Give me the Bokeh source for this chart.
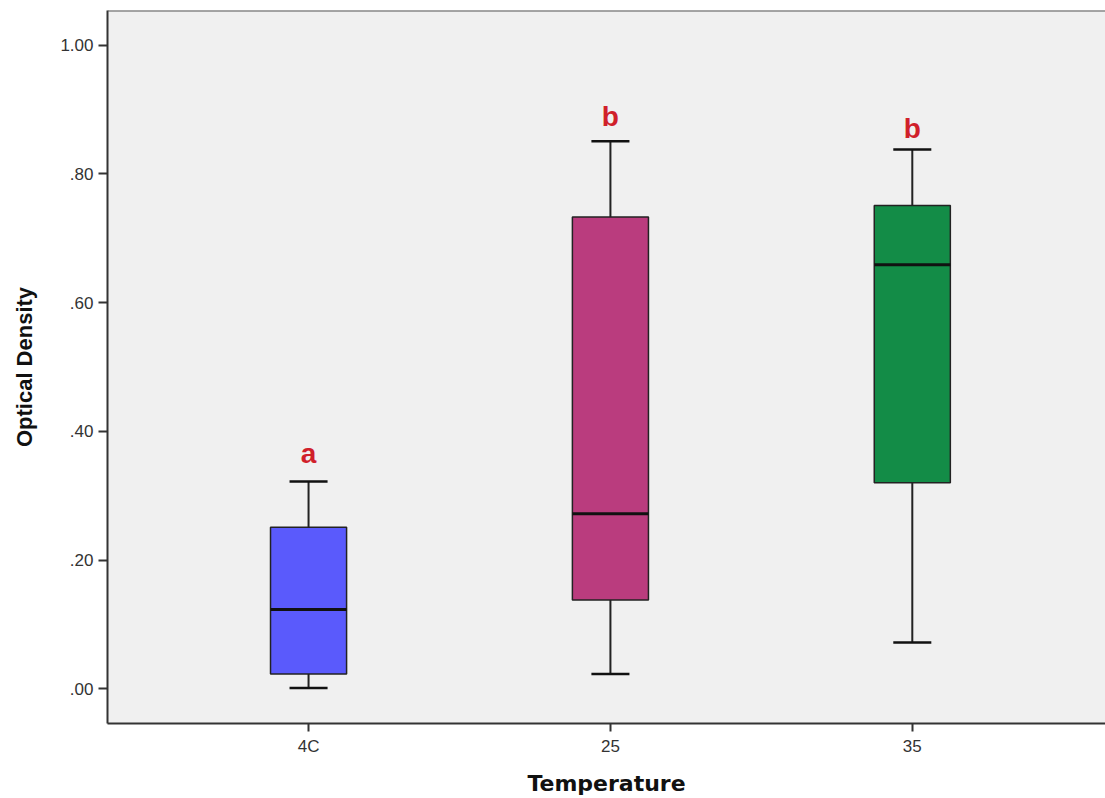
import numpy as np
from bokeh.plotting import figure
from bokeh.models import Range1d, FixedTicker, Span, ColumnDataSource
from bokeh.embed import file_html
from bokeh.resources import INLINE
from bokeh.core.properties import value

# ---- data ----
categories = ["4C", "25", "35"]
x_pos = [1, 2, 3]
whisker_low = [0.001, 0.023, 0.072]
q1 = [0.023, 0.138, 0.320]
median = [0.123, 0.272, 0.659]
q3 = [0.251, 0.733, 0.751]
whisker_high = [0.322, 0.851, 0.838]
box_colors = ["#5a5afc", "#ba3c7e", "#138c47"]
letters = ["a", "b", "b"]
letter_y = [0.365, 0.890, 0.871]
y_ticks = [0.0, 0.2, 0.4, 0.6, 0.8, 1.0]
y_tick_labels = [".00", ".20", ".40", ".60", ".80", "1.00"]

box_w = 0.252
cap_w = 0.126

xs = np.array(x_pos, dtype=float)
src = ColumnDataSource(dict(
    x=xs, q1=q1, q3=q3, med=median, lo=whisker_low, hi=whisker_high,
    color=box_colors,
    bx0=xs - box_w / 2, bx1=xs + box_w / 2,
    cx0=xs - cap_w / 2, cx1=xs + cap_w / 2,
    lab=letters, ly=letter_y,
))

p = figure(width=1105, height=798, output_backend="svg", toolbar_location=None,
           x_range=Range1d(0.334, 3.64), y_range=Range1d(-0.054, 1.054),
           min_border_left=107, min_border_right=0, min_border_top=10,
           min_border_bottom=75)

p.background_fill_color = "#f0f0f0"
p.border_fill_color = "white"
p.outline_line_color = None
p.xgrid.grid_line_color = None
p.ygrid.grid_line_color = None

# whisker stems
p.segment(x0="x", y0="q3", x1="x", y1="hi", source=src, line_color="#222222", line_width=2)
p.segment(x0="x", y0="lo", x1="x", y1="q1", source=src, line_color="#222222", line_width=2)
# caps
p.segment(x0="cx0", y0="hi", x1="cx1", y1="hi", source=src, line_color="#111111", line_width=2.5)
p.segment(x0="cx0", y0="lo", x1="cx1", y1="lo", source=src, line_color="#111111", line_width=2.5)
# boxes
p.vbar(x="x", width=box_w, top="q3", bottom="q1", source=src,
       fill_color="color", line_color="#222222", line_width=1.5)
# medians
p.segment(x0="bx0", y0="med", x1="bx1", y1="med", source=src, line_color="#111111", line_width=3)

# significance letters
p.text(x="x", y="ly", text="lab", source=src, text_align="center", text_baseline="middle",
       text_color="#d0202a", text_font=value("Liberation Sans"), text_font_style="bold",
       text_font_size="28px")

# top border
p.add_layout(Span(location=1.054, dimension="width", line_color="#555555", line_width=2))

# axes
for ax in (p.xaxis[0], p.yaxis[0]):
    ax.axis_line_color = "#333333"
    ax.axis_line_width = 2
    ax.major_tick_line_color = "#333333"
    ax.major_tick_line_width = 2
    ax.major_tick_out = 9
    ax.major_tick_in = 0
    ax.minor_tick_line_color = None
    ax.major_label_text_font = "Liberation Sans"
    ax.major_label_text_font_size = "17px"
    ax.major_label_text_color = "#333333"
    ax.axis_label_text_font_style = "bold"
    ax.axis_label_text_color = "#111111"

p.xaxis.ticker = FixedTicker(ticks=x_pos)
p.xaxis.major_label_overrides = {x: c for x, c in zip(x_pos, categories)}
p.xaxis.axis_label = "Temperature"
p.xaxis.axis_label_text_font = "DejaVu Sans"
p.xaxis.axis_label_text_font_size = "22px"
p.xaxis.axis_label_standoff = 12
p.xaxis.major_label_standoff = 5
p.xaxis.major_tick_out = 8

p.yaxis.ticker = FixedTicker(ticks=y_ticks)
p.yaxis.major_label_overrides = {t: l for t, l in zip(y_ticks, y_tick_labels)}
p.yaxis.axis_label = "Optical Density"
p.yaxis.axis_label_text_font = "Liberation Sans"
p.yaxis.axis_label_text_font_size = "22px"
p.yaxis.axis_label_standoff = 20
p.yaxis.major_label_standoff = 5

open("out.html", "w").write(file_html(p, INLINE))
